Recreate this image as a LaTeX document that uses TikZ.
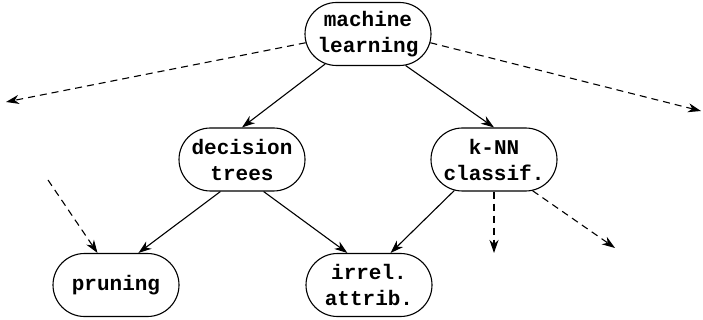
\documentclass[tikz,border=0pt]{standalone}
\usepackage{fontspec}
\setmonofont{Liberation Mono}
\usetikzlibrary{shapes.misc,arrows.meta}
\begin{document}
\begin{tikzpicture}[x=1pt,y=-1pt,
  topic/.style={rounded rectangle, draw, line width=1.1pt, minimum width=126pt, minimum height=63pt,
    inner sep=0pt, align=center, font=\ttfamily\bfseries\fontsize{21}{26}\selectfont},
  link/.style={line width=1.1pt, -{Stealth[length=13pt,width=9pt,inset=4pt]}},
  loose/.style={link, dash pattern=on 7pt off 5pt}]
\useasboundingbox (0,0) rectangle (703,320);
\node[topic] (ml) at (368,34) {machine\\learning};
\node[topic] (dt) at (242,159.5) {decision\\trees};
\node[topic] (knn) at (494,159.5) {k-NN\\classif.};
\node[topic] (pr) at (116,285) {pruning};
\node[topic] (ir) at (369,285) {irrel.\\attrib.};
\coordinate (l1) at (6,102);
\coordinate (r1) at (701,111);
\coordinate (p0) at (48,180);
\coordinate (k1) at (494,253);
\coordinate (k2) at (615,248);
\draw[link] (ml.215) -- (dt.north);
\draw[link] (ml.320) -- (knn.north);
\draw[link] (dt.236) -- (pr.55.5);
\draw[link] (dt.304) -- (ir.124.5);
\draw[link] (knn.218) -- (ir.56.7);
\draw[loose] (ml.188) -- (l1);
\draw[loose] (ml.352) -- (r1);
\draw[loose] (p0) -- (pr.120);
\draw[loose] (knn.south) -- (k1);
\draw[loose] (knn.321) -- (k2);
\end{tikzpicture}
\end{document}
